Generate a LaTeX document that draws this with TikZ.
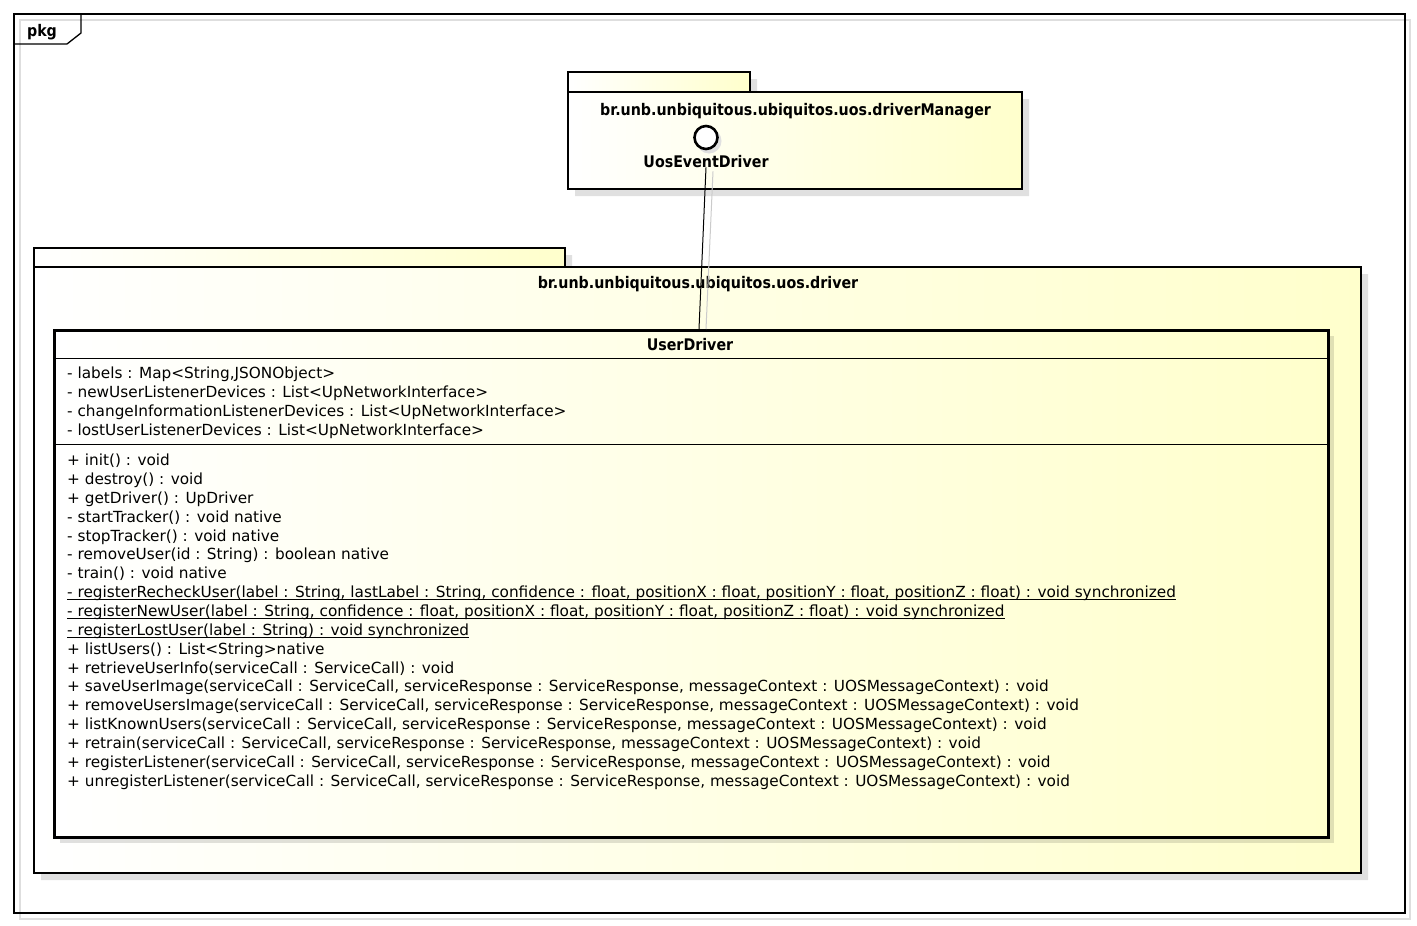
\documentclass[tikz,border=0pt]{standalone}
\usepackage{fontspec}
\setmainfont{DejaVu Sans}
\usetikzlibrary{calc}

\definecolor{uyellow}{RGB}{255,255,204}
\definecolor{shadowgray}{RGB}{224,224,224}
\definecolor{framegray}{RGB}{222,222,222}

% condensed bold heading text
\newcommand\narrowtitle[1]{\scalebox{0.89}[1]{#1}}

\begin{document}
\begin{tikzpicture}[x=1pt,y=-1pt,
  member/.style={anchor=base west, inner sep=0pt, font=\fontsize{15.3}{18}\selectfont},
  title/.style={anchor=base, inner sep=0pt, font=\fontsize{16}{19}\selectfont\bfseries},
  pkgfill/.style={left color=white, right color=uyellow},
  pkgline/.style={line width=2.8pt},
  pkgshadow/.style={fill=shadowgray},
  classshadow/.style={fill=black, fill opacity=0.12},
  underl/.style={line width=1pt}]

\useasboundingbox (0,0) rectangle (1417,926);

% diagram frame
\draw[framegray, line width=1.5pt] (20,20) rectangle (1410,919);
\draw[line width=1.3pt] (14,14) rectangle (1405,913);
\draw[line width=1.3pt] (14,44) -- (67,44) -- (81,33) -- (81,14);
\node[title] (pkglabel) at (42,36) {\narrowtitle{pkg}};

% package br.unb.unbiquitous.ubiquitos.uos.driverManager
\fill[pkgshadow] (575,79) -- (757,79) -- (757,99) -- (1029,99) -- (1029,196) -- (575,196) -- cycle;
\draw[pkgline, pkgfill] (568,72) rectangle (750,92);
\draw[pkgline, pkgfill] (568,92) rectangle (1022,189);
\node[title] (mgrlabel) at (795.5,115) {\narrowtitle{br.unb.unbiquitous.ubiquitos.uos.driverManager}};

% provided interface UosEventDriver
\fill[shadowgray] (709,141) circle (12.5);
\node[circle, draw, line width=2.6pt, fill=white, minimum size=23pt, inner sep=0pt] (ued) at (706,137.5) {};
\node[title] (uedlabel) at (706,167) {\narrowtitle{UosEventDriver}};

% package br.unb.unbiquitous.ubiquitos.uos.driver
\fill[pkgshadow] (41,255) -- (572,255) -- (572,274) -- (1368,274) -- (1368,880) -- (41,880) -- cycle;
\draw[pkgline, pkgfill] (34,248) rectangle (565,267);
\draw[pkgline, pkgfill] (34,267) rectangle (1361,873);
\node[title] (drvlabel) at (698,288) {\narrowtitle{br.unb.unbiquitous.ubiquitos.uos.driver}};

% class UserDriver
\fill[classshadow] (60,336) rectangle (1334,843);
\node[draw, line width=2.8pt, pkgfill, anchor=north west, minimum width=1274pt, minimum height=507pt, inner sep=0pt] (userdriver) at (53,329) {};
\node[title] (udname) at (690,350) {\narrowtitle{UserDriver}};
\draw[line width=0.9pt] (53,358) -- (1327,358);
\draw[line width=0.9pt] (53,444.5) -- (1327,444.5);

% attributes
\node[member] (a1) at (67,378.5) {- labels : Map<String,JSONObject>};
\node[member] (a2) at (67,397.3) {- newUserListenerDevices : List<UpNetworkInterface>};
\node[member] (a3) at (67,416.2) {- changeInformationListenerDevices : List<UpNetworkInterface>};
\node[member] (a4) at (67,435) {- lostUserListenerDevices : List<UpNetworkInterface>};

% operations
\node[member] (o1) at (67,465.7) {+ init() : void};
\node[member] (o2) at (67,484.55) {+ destroy() : void};
\node[member] (o3) at (67,503.4) {+ getDriver() : UpDriver};
\node[member] (o4) at (67,522.25) {- startTracker() : void native};
\node[member] (o5) at (67,541.1) {- stopTracker() : void native};
\node[member] (o6) at (67,559.95) {- removeUser(id : String) : boolean native};
\node[member] (o7) at (67,578.8) {- train() : void native};
\node[member] (o8) at (67,597.65) {- registerRecheckUser(label : String, lastLabel : String, confidence : float, positionX : float, positionY : float, positionZ : float) : void synchronized};
\node[member] (o9) at (67,616.5) {- registerNewUser(label : String, confidence : float, positionX : float, positionY : float, positionZ : float) : void synchronized};
\node[member] (o10) at (67,635.35) {- registerLostUser(label : String) : void synchronized};
\node[member] (o11) at (67,654.2) {+ listUsers() : List<String>native};
\node[member] (o12) at (67,673.05) {+ retrieveUserInfo(serviceCall : ServiceCall) : void};
\node[member] (o13) at (67,691.9) {+ saveUserImage(serviceCall : ServiceCall, serviceResponse : ServiceResponse, messageContext : UOSMessageContext) : void};
\node[member] (o14) at (67,710.75) {+ removeUsersImage(serviceCall : ServiceCall, serviceResponse : ServiceResponse, messageContext : UOSMessageContext) : void};
\node[member] (o15) at (67,729.6) {+ listKnownUsers(serviceCall : ServiceCall, serviceResponse : ServiceResponse, messageContext : UOSMessageContext) : void};
\node[member] (o16) at (67,748.45) {+ retrain(serviceCall : ServiceCall, serviceResponse : ServiceResponse, messageContext : UOSMessageContext) : void};
\node[member] (o17) at (67,767.3) {+ registerListener(serviceCall : ServiceCall, serviceResponse : ServiceResponse, messageContext : UOSMessageContext) : void};
\node[member] (o18) at (67,786.15) {+ unregisterListener(serviceCall : ServiceCall, serviceResponse : ServiceResponse, messageContext : UOSMessageContext) : void};

% static operations are underlined
\foreach \n in {o8,o9,o10}
  \draw[underl] ([yshift=-2pt]\n.base west) -- ([yshift=-2pt]\n.base east);

% realization link from UserDriver to the interface
\coordinate (udTop) at (699,329);
\draw[shadowgray!85!black!80, line width=1pt] ([xshift=7pt,yshift=-4pt]uedlabel.south) -- ([xshift=7pt]udTop);
\draw[line width=1pt] (uedlabel.south) -- (udTop);
\end{tikzpicture}
\end{document}
